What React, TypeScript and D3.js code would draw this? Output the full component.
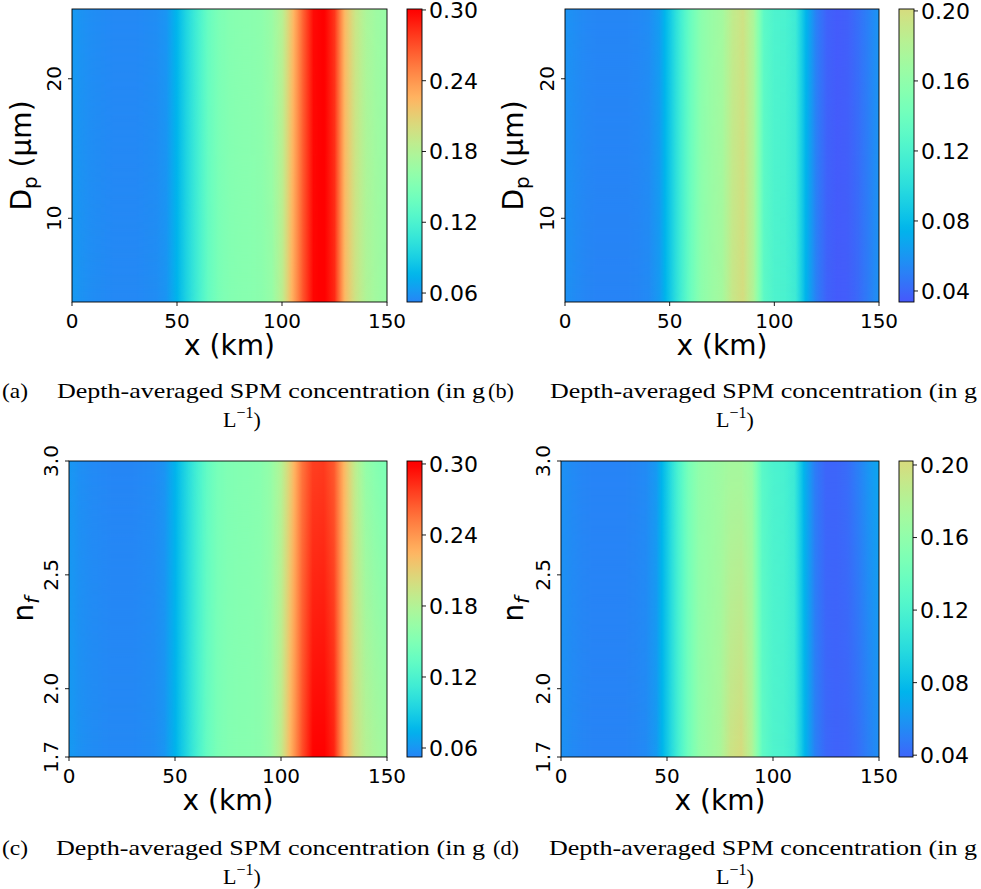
import React from 'react';
import * as d3 from 'd3';

// ---------- data ----------
const xKm = [0, 5, 10, 15, 20, 25, 30, 35, 40, 45, 50, 55, 60, 65, 70, 75, 80, 85, 90, 95, 100, 105, 110, 115, 120, 125, 130, 135, 140, 145, 150];

// Panel (a): rows at Dp = 4 (bottom) and Dp = 25 (top)
const aBottom = [0.062, 0.058, 0.056, 0.055, 0.054, 0.054, 0.054, 0.055, 0.056, 0.060, 0.075, 0.095, 0.115, 0.135, 0.147, 0.152, 0.154, 0.155, 0.157, 0.163, 0.185, 0.228, 0.268, 0.298, 0.301, 0.285, 0.222, 0.195, 0.178, 0.170, 0.166];
const aTop = [0.062, 0.058, 0.056, 0.055, 0.054, 0.054, 0.054, 0.055, 0.056, 0.060, 0.076, 0.097, 0.117, 0.137, 0.148, 0.153, 0.155, 0.156, 0.158, 0.165, 0.182, 0.220, 0.262, 0.296, 0.301, 0.280, 0.222, 0.193, 0.176, 0.168, 0.164];

// Panel (b)
const bBottom = [0.058, 0.055, 0.053, 0.052, 0.052, 0.052, 0.052, 0.053, 0.055, 0.062, 0.085, 0.112, 0.138, 0.158, 0.166, 0.172, 0.192, 0.200, 0.178, 0.130, 0.121, 0.119, 0.112, 0.075, 0.050, 0.038, 0.035, 0.036, 0.041, 0.049, 0.058];
const bTop = [0.059, 0.056, 0.054, 0.053, 0.053, 0.053, 0.053, 0.054, 0.056, 0.063, 0.086, 0.113, 0.138, 0.157, 0.165, 0.171, 0.188, 0.196, 0.176, 0.130, 0.121, 0.119, 0.112, 0.076, 0.050, 0.038, 0.035, 0.037, 0.043, 0.051, 0.060];

// Panel (c): rows at nf = 1.7 (bottom) and nf = 3.0 (top)
const cBottom = [0.062, 0.058, 0.056, 0.055, 0.054, 0.054, 0.054, 0.055, 0.056, 0.060, 0.074, 0.094, 0.115, 0.135, 0.147, 0.152, 0.154, 0.155, 0.157, 0.165, 0.188, 0.230, 0.270, 0.299, 0.301, 0.287, 0.228, 0.198, 0.182, 0.174, 0.170];
const cTop = [0.061, 0.057, 0.055, 0.054, 0.053, 0.053, 0.053, 0.054, 0.055, 0.059, 0.074, 0.094, 0.114, 0.133, 0.145, 0.150, 0.152, 0.153, 0.155, 0.162, 0.180, 0.215, 0.255, 0.276, 0.278, 0.266, 0.222, 0.186, 0.162, 0.153, 0.148];

// Panel (d)
const dBottom = [0.058, 0.055, 0.053, 0.052, 0.052, 0.052, 0.052, 0.053, 0.055, 0.062, 0.086, 0.114, 0.140, 0.160, 0.168, 0.175, 0.195, 0.201, 0.180, 0.132, 0.122, 0.120, 0.113, 0.076, 0.050, 0.040, 0.038, 0.039, 0.043, 0.050, 0.057];
const dTop = [0.058, 0.055, 0.053, 0.052, 0.052, 0.052, 0.052, 0.053, 0.055, 0.062, 0.088, 0.118, 0.145, 0.160, 0.164, 0.168, 0.172, 0.172, 0.165, 0.128, 0.120, 0.118, 0.110, 0.072, 0.048, 0.039, 0.039, 0.042, 0.050, 0.060, 0.068];

const xTicks = [0, 50, 100, 150];
const dpTicks = [10, 20];
const nfTicks = [1.7, 2.0, 2.5, 3.0];
const cbarTicksAC = [0.06, 0.12, 0.18, 0.24, 0.30];
const cbarTicksBD = [0.04, 0.08, 0.12, 0.16, 0.20];
const captionLetters = ['(a)', '(b)', '(c)', '(d)'];
const captionText = 'Depth-averaged SPM concentration (in g';

// ---------- colormap (matplotlib "rainbow") ----------
const clamp01 = (v: number) => Math.max(0, Math.min(1, v));
function rainbow(t: number): string {
  t = clamp01(t);
  const r = clamp01(Math.abs(2 * t - 0.5));
  const g = clamp01(Math.sin(Math.PI * t));
  const b = clamp01(Math.cos((Math.PI * t) / 2));
  return d3.rgb(r * 255, g * 255, b * 255).formatHex();
}
const norm = d3.scaleLinear().domain([0, 0.3]).range([0, 1]);
const cmap = (v: number) => rainbow(norm(v));

type Panel = {
  id: string;
  plot: { x0: number; x1: number; y0: number; y1: number };
  cbar: { x0: number; x1: number };
  yDomain: [number, number];
  yTicks: number[];
  yFmt: (v: number) => string;
  yLabel: 'Dp' | 'nf';
  yLabelX: number;
  cDomain: [number, number];
  cTicks: number[];
  bottom: number[];
  top: number[];
  cap: { x0: number; xText: number; xEnd: number; base: number; center: number };
  letter: string;
};

const panels: Panel[] = [
  {
    id: 'a', plot: { x0: 72, x1: 387, y0: 9, y1: 302 }, cbar: { x0: 407, x1: 422 },
    yDomain: [4, 25], yTicks: dpTicks, yFmt: (v) => String(v), yLabel: 'Dp', yLabelX: 31,
    cDomain: [0.0524, 0.3008], cTicks: cbarTicksAC, bottom: aBottom, top: aTop,
    cap: { x0: 2, xText: 57, xEnd: 485, base: 398, center: 242 }, letter: captionLetters[0],
  },
  {
    id: 'b', plot: { x0: 565, x1: 879, y0: 9, y1: 302 }, cbar: { x0: 899, x1: 914 },
    yDomain: [4, 25], yTicks: dpTicks, yFmt: (v) => String(v), yLabel: 'Dp', yLabelX: 523,
    cDomain: [0.0337, 0.2011], cTicks: cbarTicksBD, bottom: bBottom, top: bTop,
    cap: { x0: 488, xText: 550, xEnd: 977, base: 398, center: 735 }, letter: captionLetters[1],
  },
  {
    id: 'c', plot: { x0: 69, x1: 387, y0: 461, y1: 757 }, cbar: { x0: 407, x1: 422 },
    yDomain: [1.7, 3.0], yTicks: nfTicks, yFmt: (v) => v.toFixed(1), yLabel: 'nf', yLabelX: 33,
    cDomain: [0.0524, 0.3025], cTicks: cbarTicksAC, bottom: cBottom, top: cTop,
    cap: { x0: 2, xText: 56, xEnd: 485, base: 855, center: 242 }, letter: captionLetters[2],
  },
  {
    id: 'd', plot: { x0: 561, x1: 879, y0: 461, y1: 757 }, cbar: { x0: 899, x1: 913 },
    yDomain: [1.7, 3.0], yTicks: nfTicks, yFmt: (v) => v.toFixed(1), yLabel: 'nf', yLabelX: 523,
    cDomain: [0.039, 0.2022], cTicks: cbarTicksBD, bottom: dBottom, top: dTop,
    cap: { x0: 493, xText: 549, xEnd: 977, base: 855, center: 735 }, letter: captionLetters[3],
  },
];

const SANS = 'DejaVu Sans, sans-serif';
const SERIF = 'Liberation Serif, DejaVu Serif, serif';

function PanelView({ p }: { p: Panel }) {
  const { plot, cbar } = p;
  const x = d3.scaleLinear().domain([0, 150]).range([plot.x0, plot.x1]);
  const y = d3.scaleLinear().domain(p.yDomain).range([plot.y1, plot.y0]);
  const cy = d3.scaleLinear().domain(p.cDomain).range([plot.y1, plot.y0]);

  const rowBottom = d3.scaleLinear().domain(xKm).range(p.bottom).clamp(true);
  const rowTop = d3.scaleLinear().domain(xKm).range(p.top).clamp(true);
  const stopsX = d3.range(0, 150.0001, 0.5);

  const w = plot.x1 - plot.x0;
  const h = plot.y1 - plot.y0;
  const cStops = d3.range(0, 1.0001, 0.02);

  return (
    <g>
      <defs>
        <linearGradient id={`gb-${p.id}`} x1="0" x2="1" y1="0" y2="0">
          {stopsX.map((k) => (
            <stop key={k} offset={k / 150} stopColor={cmap(rowBottom(k))} />
          ))}
        </linearGradient>
        <linearGradient id={`gt-${p.id}`} x1="0" x2="1" y1="0" y2="0">
          {stopsX.map((k) => (
            <stop key={k} offset={k / 150} stopColor={cmap(rowTop(k))} />
          ))}
        </linearGradient>
        <linearGradient id={`mg-${p.id}`} x1="0" x2="0" y1="0" y2="1">
          <stop offset="0" stopColor="#fff" stopOpacity="1" />
          <stop offset="1" stopColor="#fff" stopOpacity="0" />
        </linearGradient>
        <mask id={`m-${p.id}`} maskContentUnits="userSpaceOnUse">
          <rect x={plot.x0} y={plot.y0} width={w} height={h} fill={`url(#mg-${p.id})`} />
        </mask>
        <linearGradient id={`cb-${p.id}`} x1="0" x2="0" y1="1" y2="0">
          {cStops.map((t) => {
            const v = p.cDomain[0] + t * (p.cDomain[1] - p.cDomain[0]);
            return <stop key={t} offset={t} stopColor={cmap(v)} />;
          })}
        </linearGradient>
      </defs>

      {/* heatmap */}
      <rect x={plot.x0} y={plot.y0} width={w} height={h} fill={`url(#gb-${p.id})`} />
      <rect x={plot.x0} y={plot.y0} width={w} height={h} fill={`url(#gt-${p.id})`} mask={`url(#m-${p.id})`} />
      <rect x={plot.x0} y={plot.y0} width={w} height={h} fill="none" stroke="#000" strokeWidth={0.9} />

      {/* x axis */}
      {xTicks.map((t) => (
        <g key={t}>
          <line x1={x(t)} x2={x(t)} y1={plot.y1} y2={plot.y1 + 4} stroke="#000" strokeWidth={0.9} />
          <text x={x(t)} y={plot.y1 + 26} textAnchor="middle" fontFamily={SANS} fontSize={20}>{t}</text>
        </g>
      ))}
      <text x={(plot.x0 + plot.x1) / 2} y={plot.y1 + 53} textAnchor="middle" fontFamily={SANS} fontSize={28}>x (km)</text>

      {/* y axis */}
      {p.yTicks.map((t) => (
        <g key={t}>
          <line x1={plot.x0 - 4} x2={plot.x0} y1={y(t)} y2={y(t)} stroke="#000" strokeWidth={0.9} />
          <text transform={`translate(${plot.x0 - 11.5},${y(t)}) rotate(-90)`} textAnchor="middle" fontFamily={SANS} fontSize={20}>
            {p.yFmt(t)}
          </text>
        </g>
      ))}
      <text transform={`translate(${p.yLabelX},${(plot.y0 + plot.y1) / 2}) rotate(-90)`} textAnchor="middle" fontFamily={SANS} fontSize={28}>
        {p.yLabel === 'Dp' ? (
          <>
            D<tspan fontSize={20} dy={6}>p</tspan><tspan dy={-6}> (μm)</tspan>
          </>
        ) : (
          <>
            n<tspan fontSize={20} dy={6} fontStyle="italic">f</tspan>
          </>
        )}
      </text>

      {/* colorbar */}
      <rect x={cbar.x0} y={plot.y0} width={cbar.x1 - cbar.x0} height={h} fill={`url(#cb-${p.id})`} stroke="#000" strokeWidth={0.9} />
      {p.cTicks.map((t) => (
        <g key={t}>
          <line x1={cbar.x1} x2={cbar.x1 + 4} y1={cy(t)} y2={cy(t)} stroke="#000" strokeWidth={0.9} />
          <text x={cbar.x1 + 7} y={cy(t)} dy="0.36em" fontFamily={SANS} fontSize={22}>{t.toFixed(2)}</text>
        </g>
      ))}

      {/* caption */}
      <text x={p.cap.x0} y={p.cap.base} fontFamily={SERIF} fontSize={22} textLength={26} lengthAdjust="spacingAndGlyphs">{p.letter}</text>
      <text x={p.cap.xText} y={p.cap.base} fontFamily={SERIF} fontSize={22} textLength={p.cap.xEnd - p.cap.xText} lengthAdjust="spacingAndGlyphs">
        {captionText}
      </text>
      <text x={p.cap.center} y={p.cap.base + 29} textAnchor="middle" fontFamily={SERIF} fontSize={22}>
        L<tspan fontSize={16} dy={-9}>−1</tspan><tspan dy={9}>)</tspan>
      </text>
    </g>
  );
}

export default function App() {
  return (
    <svg width={981} height={889} viewBox="0 0 981 889" style={{ position: 'absolute', left: 0, top: 0, background: '#fff' }}>
      <rect x={0} y={0} width={981} height={889} fill="#fff" />
      {panels.map((p) => (
        <PanelView key={p.id} p={p} />
      ))}
    </svg>
  );
}
